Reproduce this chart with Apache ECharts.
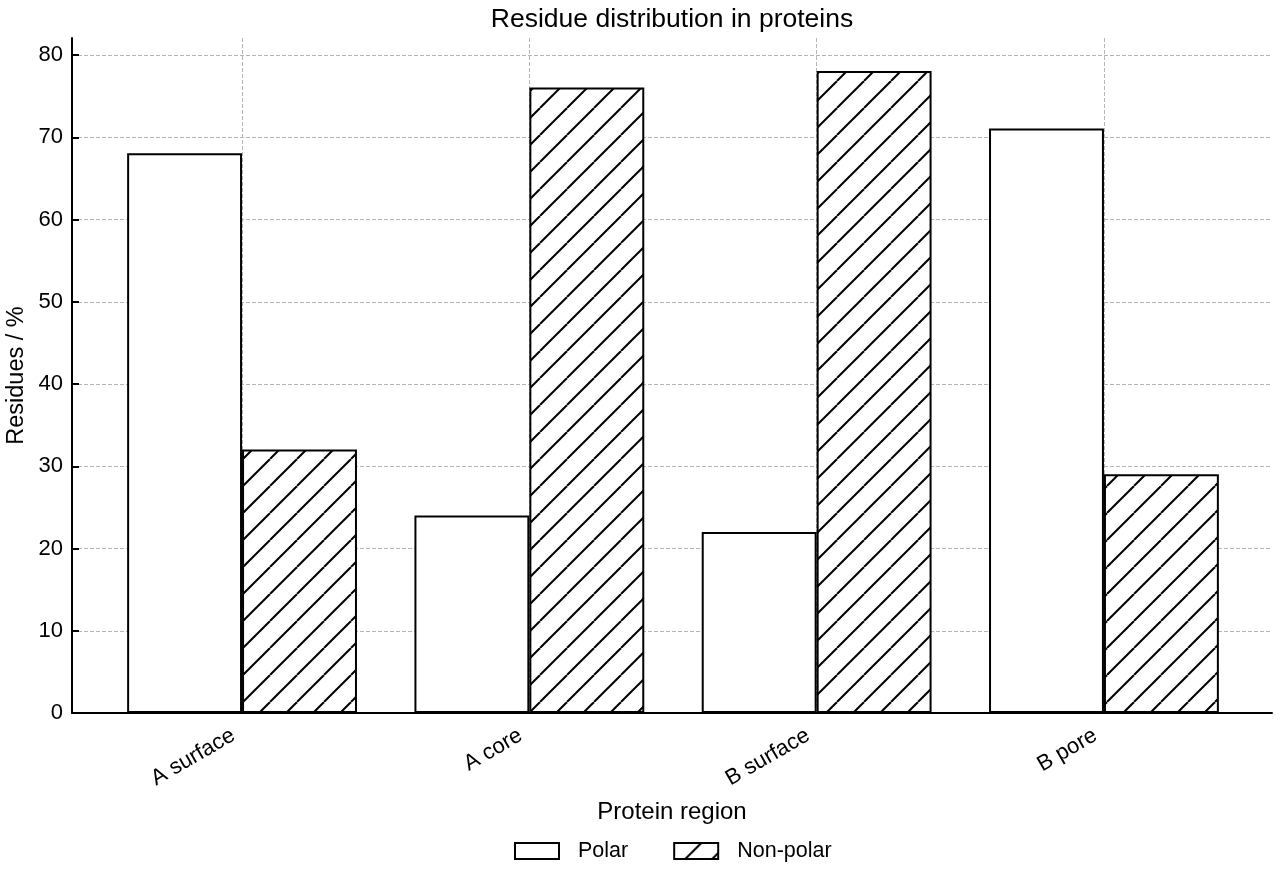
<!DOCTYPE html>
<html><head><meta charset="utf-8">
<script src="https://cdn.jsdelivr.net/npm/echarts@6/dist/echarts.min.js"></script>
<style>html,body{margin:0;padding:0;background:#fff}#c{width:1280px;height:880px}</style>
</head><body><div id="c"></div>
<script>
const categories = ['A surface', 'A core', 'B surface', 'B pore'];
const polar = [68, 24, 22, 71];
const nonPolar = [32, 76, 78, 29];
const seriesNames = ['Polar', 'Non-polar'];
const yMin = 0, yMax = 82, yTickMax = 80, yStep = 10;

const FONT = 'Liberation Sans, Arial, Helvetica, sans-serif';

function hatchCanvas() {
  const s = 27;
  const c = document.createElement('canvas');
  c.width = s; c.height = s;
  const g = c.getContext('2d');
  g.fillStyle = '#fff'; g.fillRect(0, 0, s, s);
  g.strokeStyle = '#000'; g.lineWidth = 2;
  for (const o of [-s, 0, s]) {
    g.beginPath(); g.moveTo(o, s); g.lineTo(o + s, 0); g.stroke();
  }
  return c;
}

const chart = echarts.init(document.getElementById('c'), null, {renderer: 'canvas'});
const gridTop = 38, gridBottom = 167;
const ob = {outerBoundsMode: 'none', containLabel: false};
const option = {
  backgroundColor: '#fff',
  animation: false,
  title: {
    text: 'Residue distribution in proteins',
    left: 672, textAlign: 'center', top: 6, padding: 0,
    textStyle: {fontFamily: FONT, fontSize: 26.5, fontWeight: 'normal', color: '#000'}
  },
  legend: {
    data: seriesNames,
    left: 514, top: 840, padding: 0,
    itemWidth: 44, itemHeight: 16, itemGap: 45,
    icon: 'rect',
    textStyle: {fontFamily: FONT, fontSize: 21.5, color: '#000', padding: [0, 0, 0, 14]}
  },
  grid: [
    Object.assign({left: 72, right: 8, top: gridTop, bottom: gridBottom}, ob),
    Object.assign({left: 98.4, right: 32.4, top: gridTop, bottom: gridBottom}, ob),
    Object.assign({left: 242, right: 176, top: gridTop, bottom: gridBottom}, ob),
    Object.assign({left: 72, right: 8, top: 55, bottom: gridBottom}, ob)
  ],
  xAxis: [
    {gridIndex: 0, type: 'value', min: 0, max: 1,
     axisLine: {show: true, onZero: false, lineStyle: {color: '#000', width: 2}},
     axisTick: {show: false}, axisLabel: {show: false}, splitLine: {show: false},
     name: 'Protein region', nameLocation: 'middle', nameGap: 87,
     nameTextStyle: {fontFamily: FONT, fontSize: 24, color: '#000'}},
    {gridIndex: 1, type: 'category', data: categories,
     axisLine: {show: false}, axisTick: {show: false}, splitLine: {show: false},
     axisLabel: {rotate: 30, margin: 16, padding: [0, 10, 0, 0], fontFamily: FONT, fontSize: 22, color: '#000', interval: 0}},
    {gridIndex: 2, type: 'value', min: 0, max: 3, interval: 1,
     axisLine: {show: false}, axisTick: {show: false}, axisLabel: {show: false},
     splitLine: {show: true, lineStyle: {color: '#b5b5b5', width: 1, type: [4, 2]}}},
    {gridIndex: 3, type: 'value', min: 0, max: 1, show: false}
  ],
  yAxis: [
    {gridIndex: 0, type: 'value', min: yMin, max: yMax,
     axisLine: {show: true, lineStyle: {color: '#000', width: 2}},
     axisTick: {show: false}, axisLabel: {show: false}, splitLine: {show: false},
     name: 'Residues / %', nameLocation: 'middle', nameGap: 43,
     nameTextStyle: {fontFamily: FONT, fontSize: 23.5, color: '#000'}},
    {gridIndex: 1, type: 'value', min: yMin, max: yMax, show: false},
    {gridIndex: 2, type: 'value', min: 0, max: 1, show: false},
    {gridIndex: 3, type: 'value', min: yMin, max: yTickMax, interval: yStep,
     axisLine: {show: false},
     axisTick: {show: true, inside: true, length: 7, lineStyle: {color: '#000', width: 2}},
     axisLabel: {fontFamily: FONT, fontSize: 22, color: '#000', margin: 9},
     splitLine: {show: true, lineStyle: {color: '#b5b5b5', width: 1, type: [4, 2]}}}
  ],
  series: [
    {name: seriesNames[0], type: 'bar', xAxisIndex: 1, yAxisIndex: 1, data: polar,
     barGap: '0%', barCategoryGap: '20%',
     itemStyle: {color: '#fff', borderColor: '#000', borderWidth: 2}},
    {name: seriesNames[1], type: 'bar', xAxisIndex: 1, yAxisIndex: 1, data: nonPolar,
     barGap: '0%', barCategoryGap: '20%',
     itemStyle: {color: {image: hatchCanvas(), repeat: 'repeat'}, borderColor: '#000', borderWidth: 2}}
  ]
};
chart.setOption(option);
</script>
</body></html>
